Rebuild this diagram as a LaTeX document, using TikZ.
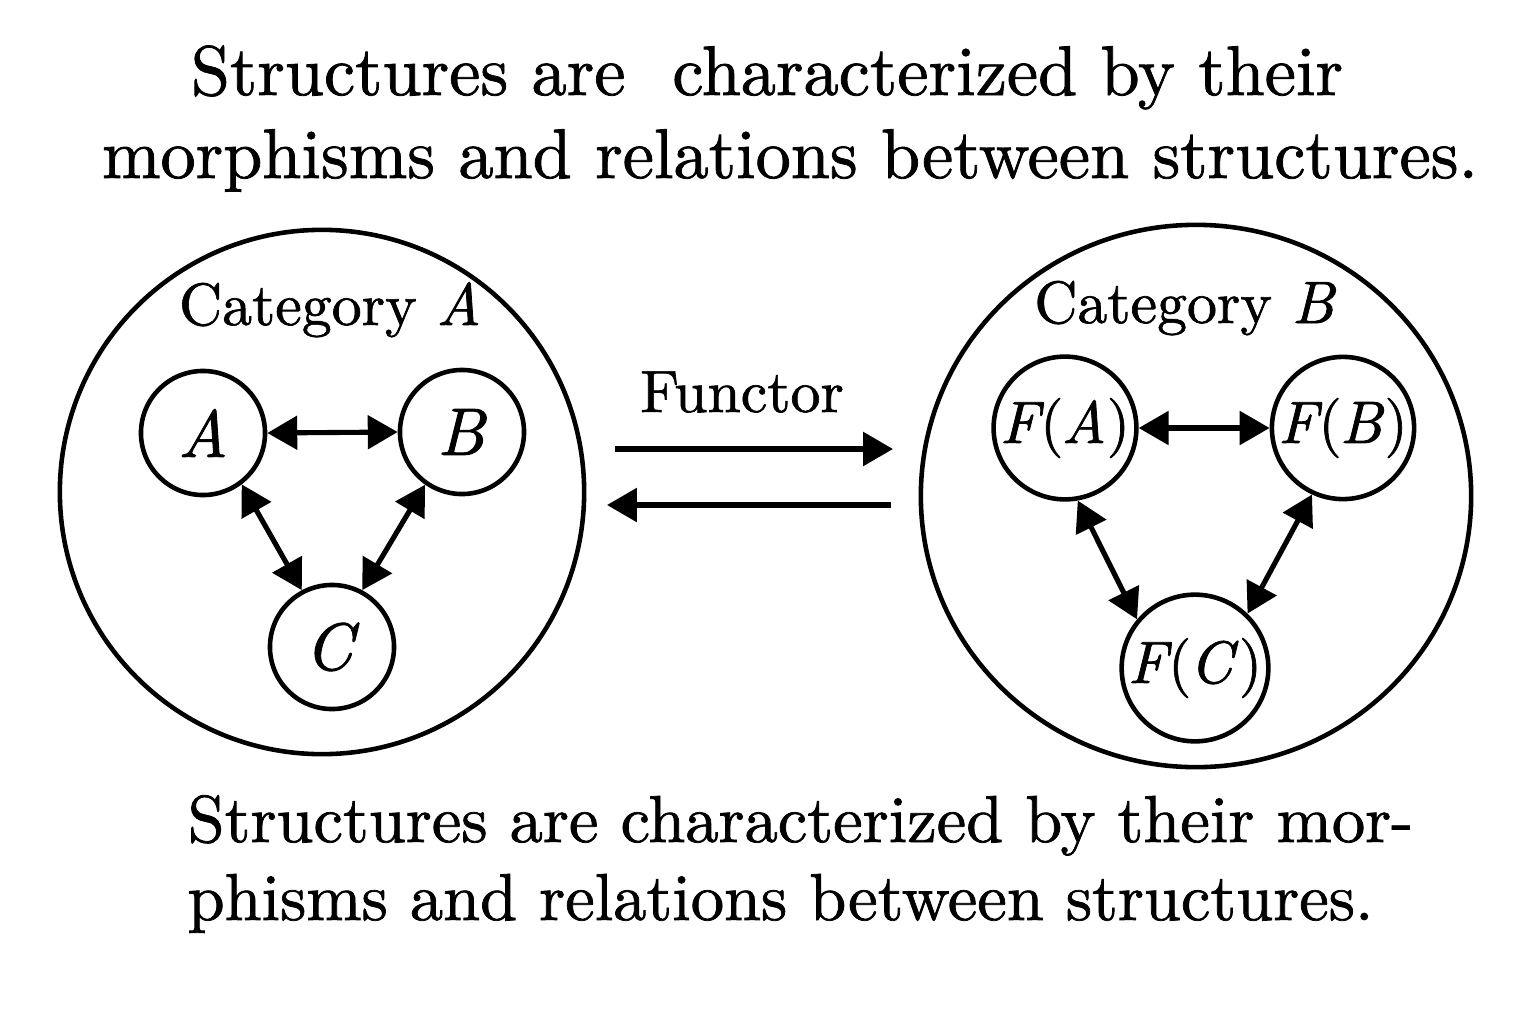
\documentclass[tikz,border=0pt]{standalone}
\usepackage{fontspec}
\setmainfont{lmroman10-regular.otf}[FakeBold=1.1,ItalicFont=lmroman10-italic.otf,ItalicFeatures={FakeBold=1.3},BoldFont=lmroman10-bold.otf]
\usetikzlibrary{arrows.meta,shapes.geometric}
\begin{document}
\begin{tikzpicture}[x=0.01cm,y=-0.01cm,
  big/.style={draw, line width=1.3pt, inner sep=0pt},
  obj/.style={draw, circle, line width=1.3pt, inner sep=0pt, minimum size=1.24cm, font=\fontsize{19}{22}\selectfont},
  fobj/.style={obj, minimum size=1.40cm, font=\fontsize{17}{20}\selectfont},
  biarr/.style={line width=1.45pt, {Triangle[length=8.5pt,width=9.4pt]}-{Triangle[length=8.5pt,width=9.4pt]}},
  onearr/.style={line width=1.55pt, -{Triangle[length=8.5pt,width=9.4pt]}},
  title/.style={anchor=base, inner sep=0pt, font=\fontsize{20}{24}\selectfont},
  btitle/.style={anchor=base west, inner sep=0pt, font=\fontsize{18.9}{22}\selectfont},
  lab/.style={anchor=base, inner sep=0pt, font=\fontsize{17}{20}\selectfont}]
\useasboundingbox (0,0) rectangle (1536,1024);
\fill[white] (0,0) rectangle (1536,1024);

% titles
\node[title] (t1) at (767,95) {Structures are~ characterized by their};
\node[title] (t2) at (790,178) {morphisms and relations between structures.};
\node[btitle] (b1) at (187,842) {Structures are characterized by their mor-};
\node[btitle] (b2) at (187,920) {phisms and relations between structures.};

% categories
\node[big, circle, minimum size=5.24cm] (catA) at (322,492) {};
\node[big, ellipse, minimum width=5.50cm, minimum height=5.42cm] (catB) at (1196,496) {};
\node[lab] (labA) at (330,325) {Category \textit{A}};
\node[lab] (labB) at (1185,323) {Category \textit{B}};

% objects in A
\node[obj] (A) at (203,433) {\textit{A}};
\node[obj] (B) at (462,432) {\textit{B}};
\node[obj] (C) at (332,647) {\textit{C}};
\draw[biarr] (A.east) -- (B.west);
\draw[biarr] (A.-53.5) -- (C.118.6);
\draw[biarr] (B.-125) -- (C.62.6);

% objects in B
\node[fobj] (FA) at (1065,428) {\textit{F}\kern-0.06em(\kern-0.03em\textit{A}\kern0.01em)};
\node[fobj] (FB) at (1343,428) {\textit{F}\kern-0.06em(\kern-0.03em\textit{B}\kern0.01em)};
\node[fobj] (FC) at (1195,668) {\textit{F}\kern-0.06em(\kern-0.03em\textit{C}\kern0.01em)};
\draw[biarr] (FA.east) -- (FB.west);
\draw[biarr] (FA.-80.5) -- (FC.140.7);
\draw[biarr] (FB.-115) -- (FC.46);

% functor
\node[lab] (fun) at (742,412) {Functor};
\coordinate (f1s) at (615,449);
\coordinate (f1e) at (893,449);
\coordinate (f2s) at (891,505);
\coordinate (f2e) at (607,505);
\draw[onearr] (f1s) -- (f1e);
\draw[onearr] (f2s) -- (f2e);
\end{tikzpicture}
\end{document}
